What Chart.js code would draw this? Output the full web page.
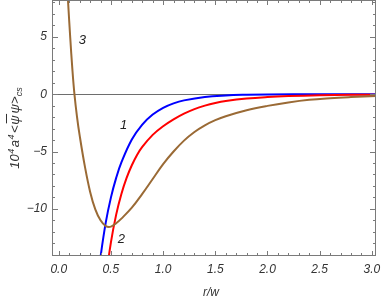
<!DOCTYPE html>
<html><head><meta charset="utf-8">
<script src="https://cdn.jsdelivr.net/npm/chart.js@4.4.1/dist/chart.umd.min.js"></script>
<style>html,body{margin:0;padding:0;background:#fff}#wrap{width:382px;height:300px}</style>
</head><body><div id="wrap"><canvas id="c" width="382" height="300"></canvas></div>
<script>
// ---- data (r/w, 10^4 a^4 <psibar psi>_cs) ----
const rBlue = [0.30, 0.35, 0.40, 0.45, 0.50, 0.55, 0.60, 0.70, 0.80, 0.90, 1.00, 1.10, 1.20, 1.40, 1.60, 1.80, 2.00, 2.50, 3.05];
const vBlue = [-22, -17.8, -14.2, -11.2, -9.0, -7.3, -5.95, -3.95, -2.65, -1.78, -1.19, -0.80, -0.54, -0.24, -0.11, -0.05, -0.02, -0.005, 0];

const rRed = [0.35, 0.40, 0.45, 0.50, 0.55, 0.60, 0.65, 0.70, 0.75, 0.80, 0.90, 1.00, 1.10, 1.20, 1.30, 1.40, 1.50, 1.60, 1.80, 2.00, 2.20, 2.50, 2.80, 3.05];
const vRed = [-26, -20.5, -16.2, -12.9, -10.5, -8.7, -7.3, -6.2, -5.3, -4.6, -3.55, -2.8, -2.2, -1.7, -1.3, -1.0, -0.77, -0.6, -0.38, -0.25, -0.17, -0.10, -0.06, -0.04];

const rBrown = [0.05, 0.07, 0.09, 0.11, 0.13, 0.15, 0.175, 0.20, 0.25, 0.30, 0.35, 0.40, 0.45, 0.50, 0.55, 0.60, 0.70, 0.80, 0.90, 1.00, 1.10, 1.20, 1.30, 1.40, 1.50, 1.60, 1.80, 2.00, 2.20, 2.40, 2.60, 2.80, 3.05];
const vBrown = [14.8, 11.2, 7.9, 4.9, 2.2, 0.0, -2.0, -3.6, -6.3, -8.5, -10.05, -11.0, -11.5, -11.55, -11.25, -10.85, -9.9, -8.7, -7.4, -6.1, -5.0, -4.05, -3.3, -2.72, -2.27, -1.92, -1.40, -1.02, -0.72, -0.49, -0.35, -0.25, -0.15];

const xTickValues = [0, 0.5, 1.0, 1.5, 2.0, 2.5, 3.0];
const xTickLabels = ['0.0', '0.5', '1.0', '1.5', '2.0', '2.5', '3.0'];
const yTickValues = [-10, -5, 0, 5];
const yTickLabels = ['\u221210', '\u22125', '0', '5'];

const curveNames = ['1', '2', '3'];
const curveNameR = [0.622, 0.60, 0.225];
const curveNameV = [-2.74, -12.69, 4.73];

const xTitle = 'r/w';
// y title: 10^4 a^4 <psibar psi>_cs
// ---------------------------------------------------------------

const pts = (xs, ys) => xs.map((x, i) => ({x: x, y: ys[i]}));
const FONT = '"Liberation Sans", Arial, sans-serif';
const FRAME = '#7a7a7a';
const TXT = '#333333';

const decor = {
  id: 'decor',
  beforeDatasetsDraw(chart) {
    const {ctx, chartArea: a, scales: {x, y}} = chart;
    ctx.save();
    ctx.strokeStyle = '#6e6e6e';
    ctx.lineWidth = 1;
    const y0 = Math.round(y.getPixelForValue(0)) + 0.5;
    ctx.beginPath(); ctx.moveTo(a.left, y0); ctx.lineTo(a.right, y0); ctx.stroke();
    ctx.restore();
  },
  afterDatasetsDraw(chart) {
    const {ctx, chartArea: a, scales: {x, y}} = chart;
    ctx.save();
    ctx.strokeStyle = FRAME;
    ctx.lineWidth = 1;
    ctx.strokeRect(Math.round(a.left) + 0.5, Math.round(a.top) + 0.5, Math.round(a.right - a.left) - 1, Math.round(a.bottom - a.top) - 1);
    ctx.beginPath();
    for (let k = 0; k <= 30; k++) {
      const v = k / 10;
      const px = Math.round(x.getPixelForValue(v)) + 0.5;
      const len = (k % 5 === 0) ? 5 : 3;
      ctx.moveTo(px, a.bottom); ctx.lineTo(px, a.bottom - len);
      ctx.moveTo(px, a.top); ctx.lineTo(px, a.top + len);
    }
    for (let v = -14; v <= 8; v++) {
      const py = Math.round(y.getPixelForValue(v)) + 0.5;
      const len = (v % 5 === 0) ? 6 : 3;
      ctx.moveTo(a.left, py); ctx.lineTo(a.left + len, py);
      ctx.moveTo(a.right, py); ctx.lineTo(a.right - len, py);
    }
    ctx.stroke();

    ctx.fillStyle = '#222';
    ctx.font = 'italic 13px ' + FONT;
    ctx.textAlign = 'center';
    ctx.textBaseline = 'middle';
    curveNames.forEach((n, i) => {
      ctx.fillText(n, x.getPixelForValue(curveNameR[i]), y.getPixelForValue(curveNameV[i]));
    });

    ctx.fillStyle = TXT;
    ctx.font = 'italic 12px ' + FONT;
    ctx.fillText(xTitle, (a.left + a.right) / 2 - 3, 293);

    const big = 'italic 13px ' + FONT, small = 'italic 9px ' + FONT;
    const parts = [
      {t: '10', f: big, dy: 0, gap: 0},
      {t: '4', f: small, dy: -5.5, gap: 0.5},
      {t: 'a', f: big, dy: 0, gap: 1.5},
      {t: '4', f: small, dy: -5.5, gap: 0.5},
      {t: '<', f: big, dy: 0, gap: 1.5},
      {t: '\u03C8', f: big, dy: 0, gap: 0.5, over: true},
      {t: '\u03C8', f: big, dy: 0, gap: 2},
      {t: '>', f: big, dy: 0, gap: 0},
      {t: 'cs', f: small, dy: 3, gap: 0}
    ];
    let total = 0;
    parts.forEach(p => { ctx.font = p.f; p.w = ctx.measureText(p.t).width; total += p.gap + p.w; });
    ctx.translate(19, (a.top + a.bottom) / 2);
    ctx.rotate(-Math.PI / 2);
    ctx.textAlign = 'left';
    ctx.textBaseline = 'alphabetic';
    let cx = -total / 2;
    parts.forEach(p => {
      cx += p.gap;
      ctx.font = p.f;
      ctx.fillText(p.t, cx, p.dy);
      if (p.over) {
        ctx.strokeStyle = TXT;
        ctx.lineWidth = 1;
        ctx.beginPath(); ctx.moveTo(cx + 1.5, -12.5); ctx.lineTo(cx + p.w + 1.5, -12.5); ctx.stroke();
      }
      cx += p.w;
    });
    ctx.restore();
  }
};

const ds = (data, color) => ({
  data: data, borderColor: color, borderWidth: 2, pointRadius: 0,
  fill: false, tension: 0.4, clip: 0
});

new Chart(document.getElementById('c'), {
  type: 'line',
  data: {
    datasets: [
      ds(pts(rBrown, vBrown), '#9a6a35'),
      ds(pts(rRed, vRed), '#ff0000'),
      ds(pts(rBlue, vBlue), '#0000ff')
    ]
  },
  options: {
    responsive: false,
    animation: false,
    devicePixelRatio: 1,
    layout: {padding: {left: 0, right: 6, top: 0, bottom: 0}},
    plugins: {legend: {display: false}, tooltip: {enabled: false}},
    scales: {
      x: {
        type: 'linear', min: -0.065, max: 3.04,
        afterBuildTicks: s => { s.ticks = xTickValues.map(v => ({value: v})); },
        afterFit: s => { s.height = 44; s.paddingLeft = 0; s.paddingRight = 0; },
        grid: {display: false, drawTicks: false},
        border: {display: false},
        ticks: {
          padding: 6, color: TXT, maxRotation: 0, autoSkip: false,
          font: {family: FONT, size: 12, style: 'italic'},
          callback: (v) => { const i = xTickValues.indexOf(v); return i >= 0 ? xTickLabels[i] : ''; }
        }
      },
      y: {
        type: 'linear', min: -14.11, max: 8.21,
        afterBuildTicks: s => { s.ticks = yTickValues.map(v => ({value: v})); },
        afterFit: s => { s.width = 52; s.paddingTop = 0; s.paddingBottom = 0; },
        grid: {display: false, drawTicks: false},
        border: {display: false},
        ticks: {
          padding: 5, color: TXT, autoSkip: false,
          font: {family: FONT, size: 12, style: 'italic'},
          callback: (v) => { const i = yTickValues.indexOf(v); return i >= 0 ? yTickLabels[i] : ''; }
        }
      }
    }
  },
  plugins: [decor]
});
</script></body></html>
